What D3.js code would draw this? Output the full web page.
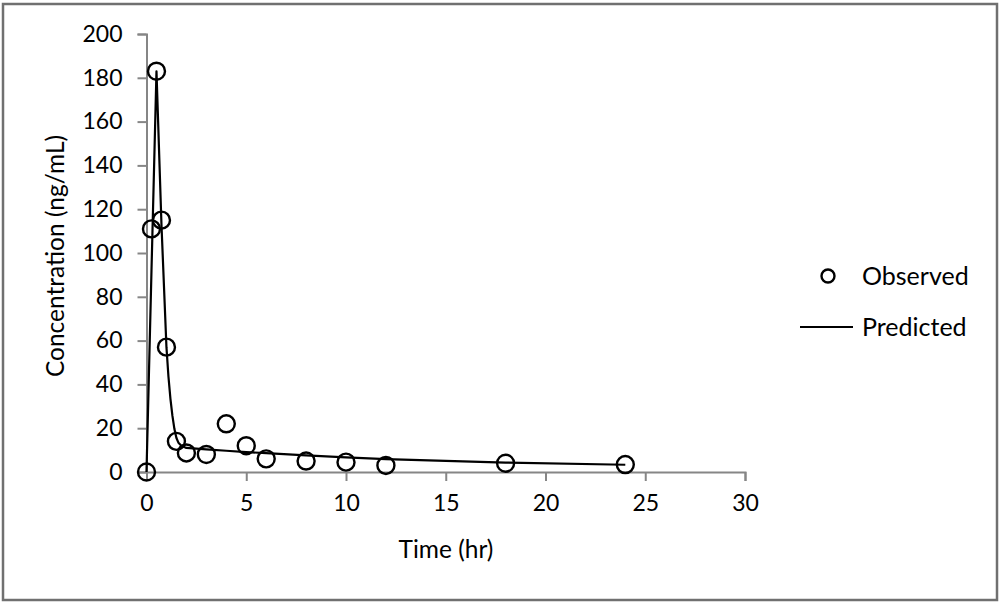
<!DOCTYPE html>
<html>
<head>
<meta charset="utf-8">
<script src="https://cdn.jsdelivr.net/npm/d3@7"></script>
<style>
  body { margin: 0; background: #fff; }
  text { font-family: Lato, "Open Sans", sans-serif; fill: #000; }
</style>
</head>
<body>
<svg id="chart" width="1000" height="604"></svg>
<script>
// observed concentrations (ng/mL) vs time (hr)
const obsTime = [0, 0.25, 0.5, 0.75, 1, 1.5, 2, 3, 4, 5, 6, 8, 10, 12, 18, 24];
const obsConc = [0, 111, 183, 115, 57, 14, 8.7, 8, 22, 12, 6, 5, 4.5, 3, 4, 3.4];

// model prediction
const predTime = [0, 0.25, 0.5, 0.75, 1, 1.1, 1.2, 1.3, 1.4, 1.5, 1.6, 1.75, 2, 3, 4, 5, 6, 8, 10, 12, 18, 24];
const predConc = [0, 92, 183, 113, 57, 43.6, 33.4, 25.6, 19.6, 15.5, 13.4, 12, 11, 10.3, 9.7, 9.1, 8.6, 7.6, 6.7, 5.9, 4.3, 3.3];

const xTicks = [0, 5, 10, 15, 20, 25, 30];
const yTicks = [0, 20, 40, 60, 80, 100, 120, 140, 160, 180, 200];

const svg = d3.select("#chart");
const axisColor = "#868686";

// outer frame
svg.append("rect")
  .attr("x", 3).attr("y", 4)
  .attr("width", 994).attr("height", 596)
  .attr("fill", "none")
  .attr("stroke", "#707070")
  .attr("stroke-width", 2.5);

const x = d3.scaleLinear().domain([0, 30]).range([146.5, 745]);
const y = d3.scaleLinear().domain([0, 200]).range([472, 34]);

// y axis
const yAxis = svg.append("g")
  .attr("transform", "translate(146.5,0)")
  .call(d3.axisLeft(y).tickValues(yTicks).tickSize(9).tickPadding(15));
// x axis
const xAxis = svg.append("g")
  .attr("transform", "translate(0,472)")
  .call(d3.axisBottom(x).tickValues(xTicks).tickSize(9).tickPadding(14));

[xAxis, yAxis].forEach(g => {
  g.select(".domain").attr("stroke", axisColor).attr("stroke-width", 2);
  g.selectAll(".tick line").attr("stroke", axisColor).attr("stroke-width", 2);
  g.selectAll(".tick text")
    .attr("font-family", "Lato, sans-serif")
    .attr("font-size", 23)
    .attr("fill", "#000");
});

// axis titles
svg.append("text")
  .attr("x", 446).attr("y", 558)
  .attr("text-anchor", "middle")
  .attr("font-size", 24.5)
  .text("Time (hr)");

svg.append("text")
  .attr("transform", "translate(64,256) rotate(-90)")
  .attr("text-anchor", "middle")
  .attr("font-size", 24.5)
  .text("Concentration (ng/mL)");

// predicted curve
const line = d3.line()
  .x((d, i) => x(predTime[i]))
  .y(d => y(d));

svg.append("path")
  .datum(predConc)
  .attr("d", line)
  .attr("fill", "none")
  .attr("stroke", "#000")
  .attr("stroke-width", 2.2)
  .attr("stroke-linejoin", "round");

// observed points
svg.selectAll("circle.obs")
  .data(obsConc)
  .enter()
  .append("circle")
  .attr("class", "obs")
  .attr("cx", (d, i) => x(obsTime[i]))
  .attr("cy", d => y(d))
  .attr("r", 8.5)
  .attr("fill", "none")
  .attr("stroke", "#000")
  .attr("stroke-width", 2.4);

// legend
const legend = svg.append("g");
legend.append("circle")
  .attr("cx", 828).attr("cy", 276).attr("r", 6.5)
  .attr("fill", "none").attr("stroke", "#000").attr("stroke-width", 2.4);
legend.append("text")
  .attr("x", 862).attr("y", 285)
  .attr("font-size", 25)
  .text("Observed");
legend.append("line")
  .attr("x1", 800).attr("x2", 853)
  .attr("y1", 327).attr("y2", 327)
  .attr("stroke", "#000").attr("stroke-width", 2.2);
legend.append("text")
  .attr("x", 862).attr("y", 336)
  .attr("font-size", 25)
  .text("Predicted");
</script>
</body>
</html>
